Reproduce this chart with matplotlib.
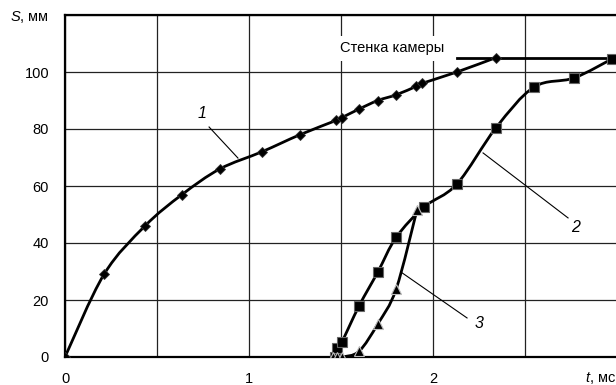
import numpy as np
import matplotlib
matplotlib.use('Agg')
import matplotlib.pyplot as plt
from matplotlib.path import Path
from matplotlib.patches import PathPatch
from matplotlib.transforms import blended_transform_factory

plt.rcParams['font.family'] = ['Liberation Sans', 'DejaVu Sans']
plt.rcParams['mathtext.fontset'] = 'custom'
plt.rcParams['mathtext.it'] = 'Liberation Sans:italic'
plt.rcParams['mathtext.rm'] = 'Liberation Sans'

# --- данные ---
t1 = [0.0, 0.212, 0.435, 0.636, 0.842, 1.07, 1.277, 1.473, 1.505, 1.598, 1.70, 1.80, 1.91, 1.94, 2.13, 2.34]
s1 = [0.0, 29.0, 46.0, 57.0, 66.0, 72.0, 78.0, 83.0, 84.0, 87.0, 90.0, 92.0, 95.0, 96.0, 100.0, 105.0]

t2 = [1.47, 1.48, 1.505, 1.598, 1.70, 1.80, 1.951, 2.13, 2.342, 2.549, 2.766, 2.973]
s2 = [0.0, 3.0, 5.3, 17.9, 29.8, 42.0, 52.6, 60.7, 80.4, 94.7, 97.9, 104.6]

t3 = [1.457, 1.478, 1.505, 1.598, 1.70, 1.80, 1.913]
s3 = [0.0, 0.0, 0.0, 2.0, 11.6, 23.9, 51.6]

wall_t = [2.13, 3.0]
wall_s = [105.0, 105.0]
wall_text = 'Стенка камеры'

x_ticks = [0, 0.5, 1, 1.5, 2, 2.5, 3]
x_labels = ['0', '', '1', '', '2', '', '']
y_ticks = [0, 20, 40, 60, 80, 100, 120]
y_labels = ['0', '20', '40', '60', '80', '100', '$S$, мм']

# номера кривых: (подпись, позиция подписи, начало выноски, конец выноски)
curve_labels = [
    ('1', (0.745, 85.6), (0.783, 80.7), (0.94, 69.8)),
    ('2', (2.777, 45.6), (2.734, 48.8), (2.272, 71.6)),
    ('3', (2.25, 11.9), (2.185, 13.7), (1.826, 29.8)),
]


def smooth_path(t, s):
    # сглаженная линия как в Excel (Catmull-Rom -> кривые Безье)
    p = np.column_stack([t, s]).astype(float)
    ext = np.vstack([p[0], p, p[-1]])
    verts = [p[0]]
    codes = [Path.MOVETO]
    for i in range(1, len(ext) - 2):
        p0, p1, p2, p3 = ext[i - 1], ext[i], ext[i + 1], ext[i + 2]
        verts += [p1 + (p2 - p0) / 6, p2 - (p3 - p1) / 6, p2]
        codes += [Path.CURVE4] * 3
    return Path(verts, codes)


fig = plt.figure(figsize=(6.16, 3.85), dpi=100)
ax = fig.add_axes([65 / 616, 1 - 357 / 385, 552 / 616, 342 / 385])

ax.set_xlim(0, 3)
ax.set_ylim(0, 120)
ax.set_xticks(x_ticks)
ax.set_xticklabels(x_labels)
ax.set_yticks(y_ticks)
ax.set_yticklabels(y_labels)
ax.tick_params(axis='both', length=0, labelsize=10.5, colors='black')
ax.tick_params(axis='x', pad=11)
ax.tick_params(axis='y', pad=11.5)
ax.grid(True, color='#222222', linewidth=0.9)
ax.set_axisbelow(True)
for side in ['left', 'top', 'bottom']:
    ax.spines[side].set_linewidth(1.6)
ax.spines['right'].set_visible(False)

for t, s in [(t1, s1), (t2, s2), (t3, s3)]:
    ax.add_patch(PathPatch(smooth_path(t, s), fill=False, lw=2.0, color='black',
                           capstyle='round', joinstyle='round', zorder=3))

ax.plot(t1, s1, 'D', ms=5.5, color='black', mec='#333333', mew=0.6, zorder=4)
ax.plot(t2, s2, 's', ms=7, color='black', mec='#666666', mew=0.8, zorder=4)
ax.plot(t3, s3, '^', ms=7, color='black', mec='#bbbbbb', mew=0.8, zorder=5)

ax.plot(wall_t, wall_s, color='black', lw=2.0, zorder=3, clip_on=False)
ax.text(1.495, 108.4, wall_text, fontsize=10.5, ha='left', va='center',
        bbox=dict(facecolor='white', edgecolor='none', pad=4), zorder=2)

for lab, pos, start, end in curve_labels:
    ax.plot([start[0], end[0]], [start[1], end[1]], color='black', lw=0.8, zorder=2)
    ax.text(pos[0], pos[1], lab, fontsize=11.5, style='italic', ha='center', va='center')

trans = blended_transform_factory(ax.transData, ax.transAxes)
ax.text(2.826, -0.0614, '$t$, мс', transform=trans, fontsize=10.5, ha='left', va='center')

fig.savefig('out.png', dpi=100)
